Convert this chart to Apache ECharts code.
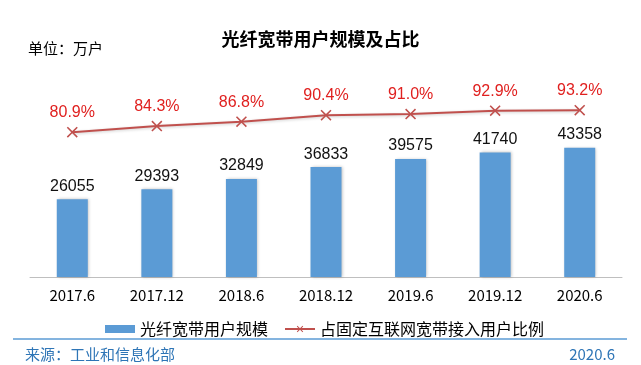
<!DOCTYPE html>
<html><head><meta charset="utf-8">
<script src="https://cdn.jsdelivr.net/npm/echarts@6/dist/echarts.min.js"></script>
<style>html,body{margin:0;padding:0;background:#fff;}#c{width:641px;height:365px;}</style>
</head><body><div id="c"></div>
<script>
var categories = ['2017.6','2017.12','2018.6','2018.12','2019.6','2019.12','2020.6'];
var fiberUsers = [26055, 29393, 32849, 36833, 39575, 41740, 43358];
var fiberShare = [80.9, 84.3, 86.8, 90.4, 91.0, 92.9, 93.2];
var seriesNames = ['光纤宽带用户规模', '占固定互联网宽带接入用户比例'];

var cjk = '"Noto Sans CJK SC", sans-serif';
var num = '"Liberation Sans", Arial, sans-serif';
var chart = echarts.init(document.getElementById('c'));
chart.setOption({
  animation: false,
  backgroundColor: '#fff',
  title: {
    text: '光纤宽带用户规模及占比', left: 'center', top: 25,
    textStyle: { fontFamily: cjk, fontSize: 18, fontWeight: 'bold', color: '#000' }
  },
  legend: {
    left: 100, top: 316, itemWidth: 30, itemHeight: 8, itemGap: 16,
    textStyle: { fontFamily: cjk, fontSize: 16, color: '#000' },
    data: [
      { name: seriesNames[0], icon: 'rect', itemStyle: { color: '#5B9BD5' } },
      { name: seriesNames[1] }
    ]
  },
  grid: { left: 30, right: 19, top: 98, bottom: 88 },
  xAxis: {
    type: 'category', data: categories,
    axisLine: { lineStyle: { color: '#BFBFBF', width: 1 } },
    axisTick: { inside: true, length: 4, lineStyle: { color: '#BFBFBF' } },
    axisLabel: { fontFamily: cjk, fontSize: 15, color: '#000', margin: 11 }
  },
  yAxis: [
    { type: 'value', min: 0, max: 60000, show: false, splitLine: { show: false } },
    { type: 'value', min: 0, max: 100, show: false, splitLine: { show: false } }
  ],
  series: [
    {
      name: seriesNames[0], type: 'bar', data: fiberUsers, barWidth: 31,
      itemStyle: { color: '#5B9BD5', shadowBlur: 3, shadowColor: 'rgba(0,0,0,0.25)', shadowOffsetX: 1 },
      label: { show: true, position: 'top', distance: 5, fontFamily: num, fontSize: 16, color: '#111' }
    },
    {
      name: seriesNames[1], type: 'line', yAxisIndex: 1, data: fiberShare,
      symbol: 'path://M0,1L1,0L5,4L9,0L10,1L6,5L10,9L9,10L5,6L1,10L0,9L4,5Z',
      symbolSize: 11,
      lineStyle: { color: '#C0504D', width: 2, shadowBlur: 3, shadowColor: 'rgba(0,0,0,0.2)', shadowOffsetY: 1 },
      itemStyle: { color: '#C0504D' },
      label: { show: true, position: 'top', distance: 6, fontFamily: num, fontSize: 16, color: '#E0201F',
        formatter: function (p) { return p.value.toFixed(1) + '%'; } }
    }
  ],
  graphic: [
    { type: 'text', left: 28, top: 41, style: { text: '单位：万户', font: '15px ' + cjk, fill: '#000' } },
    { type: 'line', shape: { x1: 13, y1: 339, x2: 627, y2: 339 }, style: { stroke: '#5B9BD5', lineWidth: 1.5 } },
    { type: 'text', left: 25, top: 347, style: { text: '来源：工业和信息化部', font: '15px ' + cjk, fill: '#2E75B6' } },
    { type: 'text', right: 26, top: 347, style: { text: '2020.6', font: '15px ' + cjk, fill: '#2E75B6' } }
  ]
});
</script></body></html>
